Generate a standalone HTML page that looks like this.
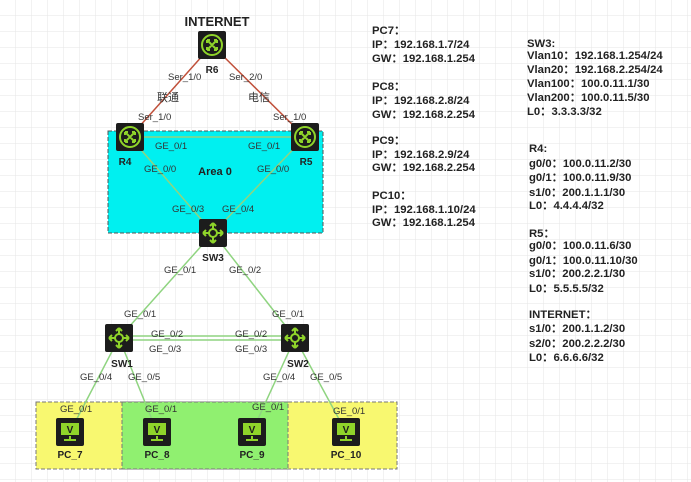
<!DOCTYPE html>
<html><head><meta charset="utf-8"><style>
body{margin:0;background:#fff}
svg{display:block}
text{font-family:"Liberation Sans","Noto Sans CJK SC",sans-serif}
.l{font-size:9.5px;fill:#333}
.n{font-size:10px;font-weight:bold;fill:#222}
.t{font-size:11.3px;font-weight:bold;fill:#222}
</style></head><body>
<svg width="691" height="482" xmlns="http://www.w3.org/2000/svg">
<defs>
<pattern id="g" width="16" height="16" patternUnits="userSpaceOnUse"><path d="M16 0V16H0" fill="none" stroke="#e6e6e6" stroke-width="1"/></pattern>
<g id="rt"><rect x="-14" y="-14" width="28" height="28" rx="2" fill="#1c1c1c"/><circle r="10" fill="none" stroke="#8fd42a" stroke-width="2"/><path d="M-5-5L5 5M5-5L-5 5M-5-5h3M-5-5v3M5 5h-3M5 5v-3M5-5h-3M5-5v3M-5 5h3M-5 5v-3" stroke="#8fd42a" stroke-width="2" fill="none"/></g>
<g id="sw"><rect x="-14" y="-14" width="28" height="28" rx="2" fill="#1c1c1c"/><circle r="4" fill="none" stroke="#8fd42a" stroke-width="2"/><path d="M-10 0h6M4 0h6M0-10v6M0 4v6M-10 0l3-3M-10 0l3 3M10 0l-3-3M10 0l-3 3M0-10l-3 3M0-10l3 3M0 10l-3-3M0 10l3-3" stroke="#8fd42a" stroke-width="2" fill="none"/></g>
<g id="pc"><rect x="-14" y="-14" width="28" height="28" rx="2" fill="#1c1c1c"/><rect x="-9" y="-9" width="18" height="12" fill="#8fd42a"/><text x="0" y="1" text-anchor="middle" font-size="10" font-weight="bold" fill="#1c1c1c">V</text><path d="M-6 8h12M0 4v4" stroke="#8fd42a" stroke-width="2"/></g>
</defs>
<rect width="691" height="482" fill="url(#g)"/>
<rect x="108" y="131" width="215" height="102" fill="#00f0f0" stroke="#555" stroke-dasharray="4,2"/>
<rect x="36" y="402" width="361" height="67" fill="#f8f870" stroke="#777" stroke-dasharray="4,2"/>
<rect x="122" y="402" width="166" height="67" fill="#90f070" stroke="#777" stroke-dasharray="4,2"/>
<g stroke="#c0503a" stroke-width="1.5"><line x1="212" y1="45" x2="130" y2="137"/><line x1="212" y1="45" x2="305" y2="137"/></g>
<g stroke="#8fd480" stroke-width="1.5">
<line x1="130" y1="137" x2="305" y2="137"/><line x1="130" y1="137" x2="213" y2="233"/><line x1="305" y1="137" x2="213" y2="233"/>
<line x1="213" y1="233" x2="119" y2="338"/><line x1="213" y1="233" x2="295" y2="338"/>
<line x1="119" y1="336" x2="295" y2="336"/><line x1="119" y1="340" x2="295" y2="340"/>
<line x1="119" y1="338" x2="70" y2="432"/><line x1="119" y1="338" x2="157" y2="432"/>
<line x1="295" y1="338" x2="252" y2="432"/><line x1="295" y1="338" x2="346" y2="432"/>
</g>
<use href="#rt" x="212" y="45"/><use href="#rt" x="130" y="137"/><use href="#rt" x="305" y="137"/>
<use href="#sw" x="213" y="233"/><use href="#sw" x="119" y="338"/><use href="#sw" x="295" y="338"/>
<use href="#pc" x="70" y="432"/><use href="#pc" x="157" y="432"/><use href="#pc" x="252" y="432"/><use href="#pc" x="346" y="432"/>
<text x="217" y="26" text-anchor="middle" font-size="13" font-weight="bold" fill="#222">INTERNET</text>
<text class="n" x="212" y="73" text-anchor="middle">R6</text>
<text class="n" x="125" y="165" text-anchor="middle">R4</text>
<text class="n" x="306" y="165" text-anchor="middle">R5</text>
<text x="215" y="175" text-anchor="middle" font-size="11" font-weight="bold" fill="#222">Area 0</text>
<text class="n" x="213" y="261" text-anchor="middle">SW3</text>
<text class="n" x="122" y="367" text-anchor="middle">SW1</text>
<text class="n" x="298" y="367" text-anchor="middle">SW2</text>
<text class="n" x="70" y="458" text-anchor="middle">PC_7</text>
<text class="n" x="157" y="458" text-anchor="middle">PC_8</text>
<text class="n" x="252" y="458" text-anchor="middle">PC_9</text>
<text class="n" x="346" y="458" text-anchor="middle">PC_10</text>
<g class="l">
<text x="168" y="80">Ser_1/0</text><text x="229" y="80">Ser_2/0</text>
<text x="157" y="101" font-size="11">联通</text><text x="248" y="101" font-size="11">电信</text>
<text x="138" y="120">Ser_1/0</text><text x="273" y="120">Ser_1/0</text>
<text x="155" y="149">GE_0/1</text><text x="248" y="149">GE_0/1</text>
<text x="144" y="172">GE_0/0</text><text x="257" y="172">GE_0/0</text>
<text x="172" y="212">GE_0/3</text><text x="222" y="212">GE_0/4</text>
<text x="164" y="273">GE_0/1</text><text x="229" y="273">GE_0/2</text>
<text x="124" y="317">GE_0/1</text><text x="272" y="317">GE_0/1</text>
<text x="151" y="337">GE_0/2</text><text x="235" y="337">GE_0/2</text>
<text x="149" y="352">GE_0/3</text><text x="235" y="352">GE_0/3</text>
<text x="80" y="380">GE_0/4</text><text x="128" y="380">GE_0/5</text>
<text x="263" y="380">GE_0/4</text><text x="310" y="380">GE_0/5</text>
<text x="60" y="412">GE_0/1</text><text x="145" y="412">GE_0/1</text>
<text x="252" y="410">GE_0/1</text><text x="333" y="414">GE_0/1</text>
</g>
<g class="t">
<text x="372" y="34">PC7：</text><text x="372" y="48">IP：192.168.1.7/24</text><text x="372" y="62">GW：192.168.1.254</text>
<text x="372" y="90">PC8：</text><text x="372" y="104">IP：192.168.2.8/24</text><text x="372" y="118">GW：192.168.2.254</text>
<text x="372" y="144">PC9：</text><text x="372" y="158">IP：192.168.2.9/24</text><text x="372" y="171">GW：192.168.2.254</text>
<text x="372" y="199">PC10：</text><text x="372" y="213">IP：192.168.1.10/24</text><text x="372" y="226">GW：192.168.1.254</text>
<text x="527" y="47">SW3:</text><text x="527" y="59">Vlan10：192.168.1.254/24</text><text x="527" y="73">Vlan20：192.168.2.254/24</text><text x="527" y="87">Vlan100：100.0.11.1/30</text><text x="527" y="101">Vlan200：100.0.11.5/30</text><text x="527" y="115">L0：3.3.3.3/32</text>
<text x="529" y="152">R4:</text><text x="529" y="167">g0/0：100.0.11.2/30</text><text x="529" y="181">g0/1：100.0.11.9/30</text><text x="529" y="196">s1/0：200.1.1.1/30</text><text x="529" y="209">L0：4.4.4.4/32</text>
<text x="529" y="237">R5：</text><text x="529" y="249">g0/0：100.0.11.6/30</text><text x="529" y="264">g0/1：100.0.11.10/30</text><text x="529" y="277">s1/0：200.2.2.1/30</text><text x="529" y="292">L0：5.5.5.5/32</text>
<text x="529" y="318">INTERNET：</text><text x="529" y="332">s1/0：200.1.1.2/30</text><text x="529" y="347">s2/0：200.2.2.2/30</text><text x="529" y="361">L0：6.6.6.6/32</text>
</g>
</svg>
</body></html>
